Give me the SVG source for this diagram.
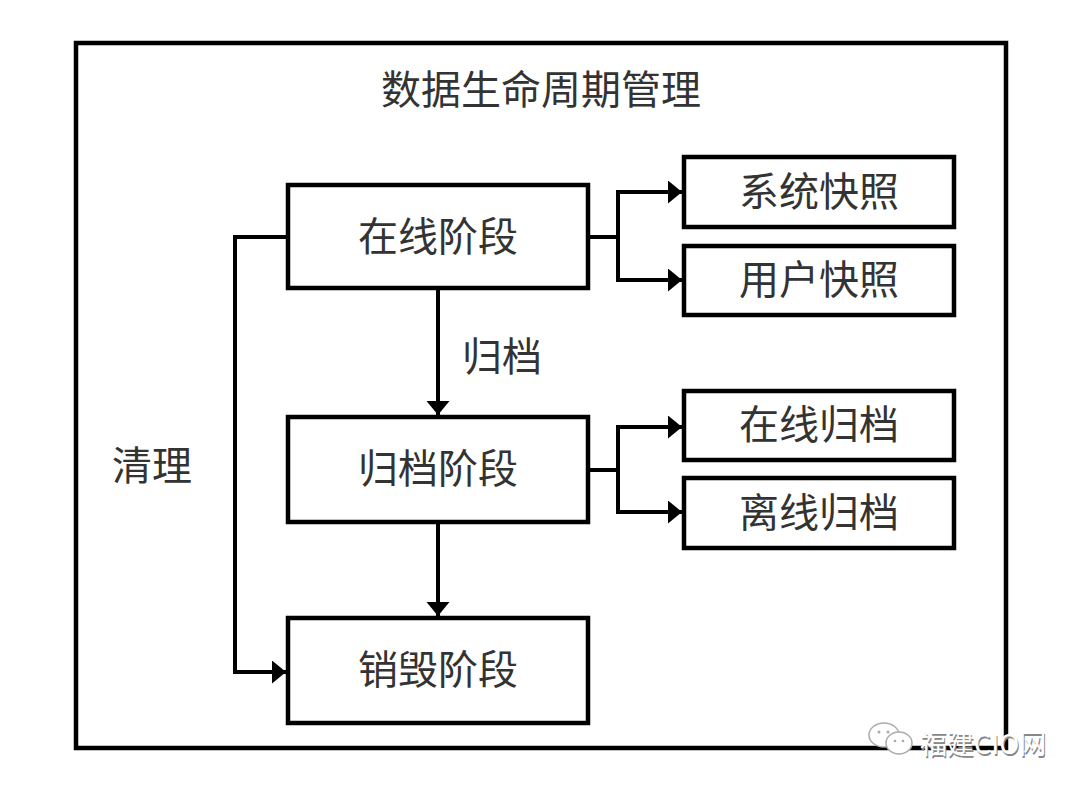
<svg xmlns="http://www.w3.org/2000/svg" width="1080" height="790" viewBox="0 0 1080 790">
<style>
.box{fill:#fff;stroke:#000;stroke-width:4.5}
.lbl{font-family:"Noto Sans CJK SC","Noto Sans",sans-serif;font-size:40px;fill:#333;text-anchor:middle;dominant-baseline:central}
.ln{fill:none;stroke:#000;stroke-width:4}
.wm{font-family:"Noto Sans CJK SC","Liberation Sans",sans-serif;font-size:27px;dominant-baseline:central}
</style>
<defs>
<marker id="ah" markerUnits="userSpaceOnUse" markerWidth="16" markerHeight="24" refX="14" refY="11.5" orient="auto">
<path d="M0,0 L14,11.5 L0,23 Z" fill="#000"/>
</marker>
</defs>
<rect width="1080" height="790" fill="#fff"/>
<g id="frame">
<rect x="76" y="43" width="930" height="705" fill="none" stroke="#000" stroke-width="4.5"/>
<text class="lbl" x="541" y="87">数据生命周期管理</text>
</g>
<g id="connectors">
<path class="ln" d="M288,237 H235 V672 H286" marker-end="url(#ah)"/>
<path class="ln" d="M438,288 V415" marker-end="url(#ah)"/>
<path class="ln" d="M438,522 V616" marker-end="url(#ah)"/>
<path class="ln" d="M588,237 H618"/>
<path class="ln" d="M618,192 V280"/>
<path class="ln" d="M616,192 H682" marker-end="url(#ah)"/>
<path class="ln" d="M616,280 H682" marker-end="url(#ah)"/>
<path class="ln" d="M588,470 H618"/>
<path class="ln" d="M618,427 V512"/>
<path class="ln" d="M616,427 H682" marker-end="url(#ah)"/>
<path class="ln" d="M616,512 H682" marker-end="url(#ah)"/>
<text class="lbl" x="502" y="354">归档</text>
<text class="lbl" x="152" y="463">清理</text>
</g>
<g id="online">
<rect class="box" x="288" y="185" width="300" height="103"/>
<text class="lbl" x="438" y="234">在线阶段</text>
</g>
<g id="archive">
<rect class="box" x="288" y="417" width="300" height="105"/>
<text class="lbl" x="438" y="466">归档阶段</text>
</g>
<g id="destroy">
<rect class="box" x="288" y="618" width="300" height="105"/>
<text class="lbl" x="438" y="667">销毁阶段</text>
</g>
<g id="sys-snapshot">
<rect class="box" x="684" y="157" width="270" height="70"/>
<text class="lbl" x="819" y="189">系统快照</text>
</g>
<g id="user-snapshot">
<rect class="box" x="684" y="246" width="270" height="69"/>
<text class="lbl" x="819" y="277">用户快照</text>
</g>
<g id="online-archive">
<rect class="box" x="684" y="391" width="270" height="69"/>
<text class="lbl" x="819" y="422">在线归档</text>
</g>
<g id="offline-archive">
<rect class="box" x="684" y="478" width="270" height="70"/>
<text class="lbl" x="819" y="510">离线归档</text>
</g>
<g id="watermark">
<ellipse cx="884" cy="735" rx="15" ry="12" fill="#fff" stroke="#aaa" stroke-width="1.5"/>
<ellipse cx="899" cy="743" rx="13" ry="11" fill="#fff" stroke="#aaa" stroke-width="1.5"/>
<circle cx="879" cy="732" r="1.5" fill="#aaa"/>
<circle cx="888" cy="732" r="1.5" fill="#aaa"/>
<circle cx="895" cy="741" r="1.3" fill="#aaa"/>
<circle cx="903" cy="741" r="1.3" fill="#aaa"/>
<text class="wm" x="921" y="744" fill="#888">福建CIO网</text>
<text class="wm" x="920" y="742" fill="#fff">福建CIO网</text>
</g>
</svg>
